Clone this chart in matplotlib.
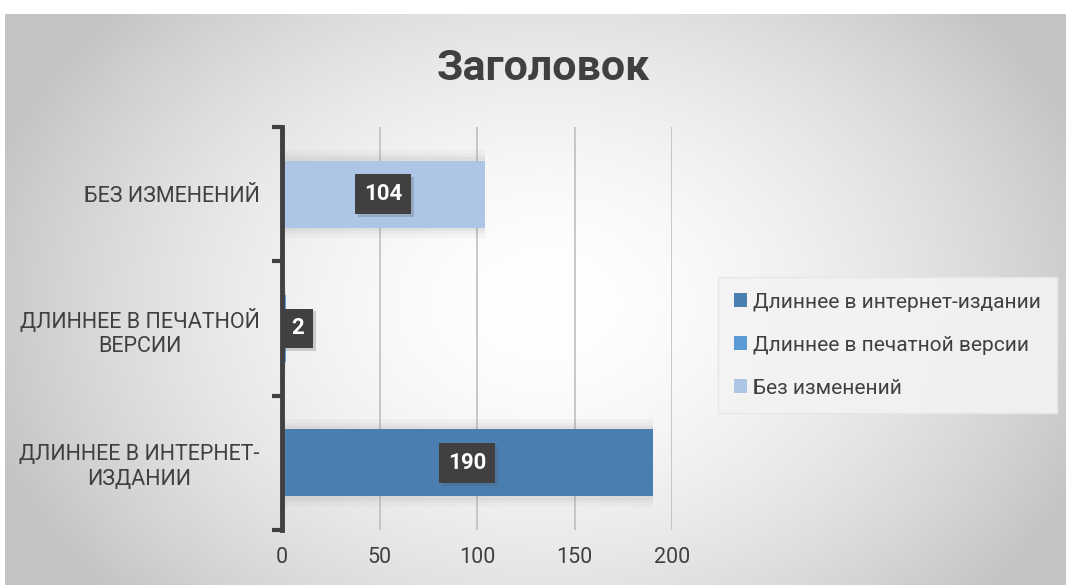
import numpy as np
import matplotlib
matplotlib.use("Agg")
import matplotlib.pyplot as plt
import matplotlib.patheffects as pe
from matplotlib.patches import Patch

# data
categories = ["ДЛИННЕЕ В ИНТЕРНЕТ-\nИЗДАНИИ", "ДЛИННЕЕ В ПЕЧАТНОЙ\nВЕРСИИ", "БЕЗ ИЗМЕНЕНИЙ"]
series_names = ["Длиннее в интернет-издании", "Длиннее в печатной версии", "Без изменений"]
values = [190, 2, 104]
x_ticks = [0, 50, 100, 150, 200]

colors = ["#4a7eb0", "#5b9bd5", "#adc6e5"]
txt = "#404040"

plt.rcParams["font.family"] = ["Roboto", "DejaVu Sans"]

W, H = 1066, 585
fig = plt.figure(figsize=(W / 100, H / 100), dpi=100)
fig.patch.set_facecolor("white")

# radial gradient background of the chart area
bg = fig.add_axes([5 / W, 0, 1 - 5 / W, 1 - 14 / H], zorder=-10)
yy, xx = np.mgrid[0:571, 0:1061]
d = np.sqrt(((xx - 540) / 580.0) ** 2 + ((yy - 290) / 440.0) ** 2)
d = np.clip(d, 0, 1.0)
shade = 1.0 - 0.23 * d ** 1.7
bg.imshow(np.dstack([shade, shade, shade]), aspect="auto", extent=(0, 1, 0, 1), origin="upper")
bg.set_axis_off()

ax = fig.add_axes([282 / W, 1 - 530 / H, (672 - 282) / W, (530 - 127) / H])
ax.set_facecolor("none")

y = np.arange(len(categories))
# soft glow behind the bars
for hh, a in [(0.66, 0.05), (0.6, 0.06), (0.55, 0.08)]:
    ax.barh(y, values, height=hh, left=0, color="#808080", alpha=a, zorder=2, linewidth=0)
bars = ax.barh(y, values, height=0.5, color=colors, zorder=3)

ax.set_xlim(0, 200)
ax.set_ylim(-0.5, len(categories) - 0.5)
ax.set_xticks(x_ticks)
ax.set_xticklabels([str(t) for t in x_ticks], fontsize=15.5, color=txt)
ax.tick_params(axis="x", length=0, pad=12)
ax.grid(axis="x", color="#bfbfbf", linewidth=1.2, zorder=0)

ax.set_yticks(y)
ax.set_yticklabels(categories, fontsize=15.5, color=txt, linespacing=1.25)
for lab in ax.get_yticklabels():
    lab.set_multialignment("center")
ax.tick_params(axis="y", which="major", length=0, pad=16)
ax.set_yticks(np.arange(len(categories) + 1) - 0.5, minor=True)
ax.tick_params(axis="y", which="minor", length=7, width=3, color="#404040", direction="out")

for s in ["top", "right", "bottom"]:
    ax.spines[s].set_visible(False)
ax.spines["left"].set_linewidth(3.5)
ax.spines["left"].set_color("#404040")
ax.spines["left"].set_zorder(5)

# data labels
for i, v in enumerate(values):
    if v > 20:
        t = ax.annotate(str(v), (v / 2, i), ha="center", va="center", fontsize=16, fontweight="bold",
                        color="white", zorder=6,
                        bbox=dict(boxstyle="square,pad=0.4", fc="#404040", ec="none"))
    else:
        t = ax.annotate(str(v), (v, i), xytext=(4, 0), textcoords="offset points", ha="left", va="center",
                        fontsize=16, fontweight="bold", color="white", zorder=6,
                        bbox=dict(boxstyle="square,pad=0.4", fc="#404040", ec="none"))
    t.get_bbox_patch().set_path_effects([pe.SimplePatchShadow(offset=(2, -2), shadow_rgbFace="#555555", alpha=0.25),
                                         pe.Normal()])

fig.text(543 / W, 1 - 68 / H, "Заголовок", ha="center", va="center", fontsize=31, fontweight="bold", color=txt)

handles = [Patch(facecolor=c, edgecolor="none") for c in colors]
leg = fig.legend(handles, series_names, loc="upper left", bbox_to_anchor=(718 / W, 1 - 277 / H),
                 borderaxespad=0, fontsize=15, frameon=True, fancybox=False, handlelength=0.65,
                 handleheight=0.65, handletextpad=0.3, labelspacing=1.15, borderpad=0.75, labelcolor=txt)
leg.get_frame().set_facecolor("#f3f3f3")
leg.get_frame().set_edgecolor("#e6e6e6")
leg.get_frame().set_alpha(0.9)

fig.savefig("out.png", dpi=100)
